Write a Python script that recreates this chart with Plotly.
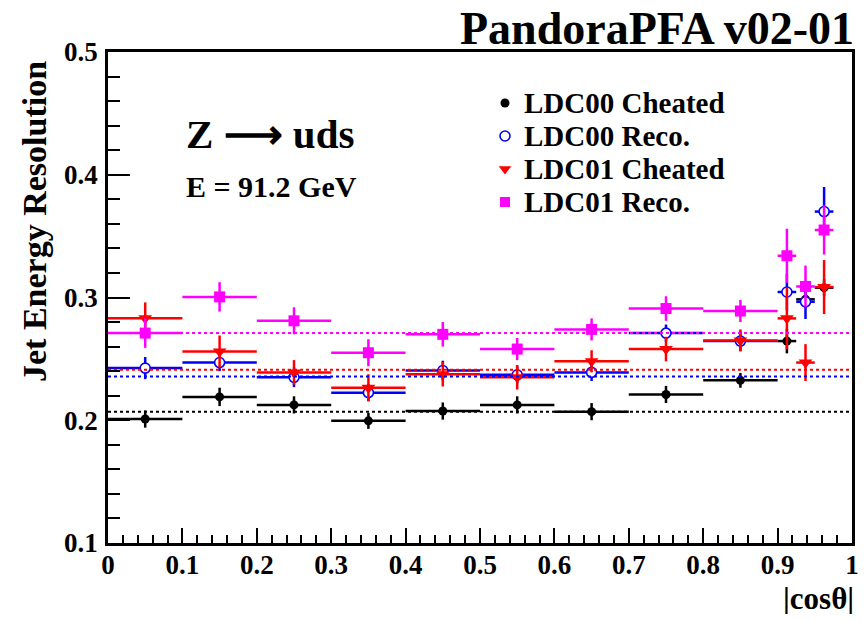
import plotly.graph_objects as go

# ---- data ----
x_centers = [0.05, 0.15, 0.25, 0.35, 0.45, 0.55, 0.65, 0.75, 0.85, 0.9125, 0.9375, 0.9625]
x_halfwidth = [0.05, 0.05, 0.05, 0.05, 0.05, 0.05, 0.05, 0.05, 0.05, 0.0125, 0.0125, 0.0125]

ldc00_cheated = [0.201, 0.219, 0.2125, 0.1995, 0.2075, 0.2125, 0.207, 0.221, 0.2325, 0.2645, 0.2985, 0.308]
ldc00_cheated_err = [0.007, 0.0075, 0.007, 0.0065, 0.007, 0.007, 0.007, 0.007, 0.006, 0.01, 0.007, 0.007]

ldc00_reco = [0.2425, 0.247, 0.235, 0.2225, 0.2405, 0.237, 0.239, 0.271, 0.2645, 0.3045, 0.2965, 0.37]
ldc00_reco_err = [0.009, 0.007, 0.008, 0.007, 0.008, 0.007, 0.007, 0.007, 0.008, 0.015, 0.014, 0.02]

ldc01_cheated = [0.283, 0.256, 0.239, 0.2265, 0.2375, 0.235, 0.248, 0.258, 0.265, 0.283, 0.247, 0.3085]
ldc01_cheated_err = [0.013, 0.013, 0.01, 0.011, 0.01, 0.01, 0.009, 0.01, 0.009, 0.025, 0.015, 0.022]

ldc01_reco = [0.271, 0.3005, 0.281, 0.255, 0.270, 0.258, 0.274, 0.291, 0.289, 0.334, 0.309, 0.355]
ldc01_reco_err = [0.012, 0.012, 0.011, 0.011, 0.01, 0.009, 0.009, 0.01, 0.009, 0.022, 0.017, 0.02]

series_names = ["LDC00 Cheated", "LDC00 Reco.", "LDC01 Cheated", "LDC01 Reco."]
series_means = [0.207, 0.2357, 0.2412, 0.271]
x_range = [0.0, 1.0]
y_range = [0.1, 0.5]
x_ticks = [0, 0.1, 0.2, 0.3, 0.4, 0.5, 0.6, 0.7, 0.8, 0.9, 1]
y_ticks = [0.1, 0.2, 0.3, 0.4, 0.5]

FONT = "Liberation Serif"
# the page body has an 8px margin, so the figure is drawn 8px in from the window corner;
# the visible area ends at ~859px, keep the figure inside it
OFF = 8
VIS_W, WIN_H = 859, 622
W, H = VIS_W - OFF, WIN_H - 2 * OFF
# plot frame in window pixels
FX0, FX1, FY0, FY1 = 108, 852, 52, 543
L, R, T, B = FX0 - OFF, W - (FX1 - OFF), FY0 - OFF, H - (FY1 - OFF)
pw, ph = W - L - R, H - T - B

# legend layout (window pixel positions of key column / text column / first row, row pitch)
LEG_KEY_X, LEG_TEXT_X, LEG_ROW0, LEG_PITCH = 505, 522, 103, 33


def px(xp):
    return (xp - OFF - L) / pw


def py(yp):
    return (H - B - (yp - OFF)) / ph


colors = ["black", "blue", "red", "magenta"]
symbols = ["circle", "circle", "triangle-down", "square"]
sizes = [9, 10, 12, 11]
values = [ldc00_cheated, ldc00_reco, ldc01_cheated, ldc01_reco]
errors = [ldc00_cheated_err, ldc00_reco_err, ldc01_cheated_err, ldc01_reco_err]


def marker_for(i, size):
    if i == 1:
        return dict(symbol="circle", size=size, color="white",
                    line=dict(color="blue", width=1.6))
    return dict(symbol=symbols[i], size=size, color=colors[i], line=dict(width=0))


fig = go.Figure()

for i in range(4):
    fig.add_trace(go.Scatter(
        x=x_centers, y=values[i], mode="markers", name=series_names[i],
        marker=marker_for(i, sizes[i]), showlegend=False,
        error_y=dict(type="data", array=errors[i], color=colors[i], thickness=2.5, width=0),
        error_x=dict(type="data", array=x_halfwidth, color=colors[i], thickness=2.5, width=0),
    ))

for i in range(4):
    fig.add_trace(go.Scatter(
        x=x_range, y=[series_means[i]] * 2, mode="lines", showlegend=False,
        line=dict(color=colors[i], width=2, dash="dot"), hoverinfo="skip",
    ))

# legend keys on a pixel-coordinate overlay axis (window pixels)
leg_sizes = [9, 10, 11, 10]
for i in range(4):
    fig.add_trace(go.Scatter(
        x=[LEG_KEY_X], y=[LEG_ROW0 + LEG_PITCH * i], mode="markers",
        marker=marker_for(i, leg_sizes[i]), showlegend=False,
        xaxis="x2", yaxis="y2", hoverinfo="skip",
    ))

axis_common = dict(
    showline=True, linecolor="black", linewidth=2.5, mirror=True,
    ticks="inside", tickcolor="black", tickwidth=1.5,
    showgrid=False, zeroline=False, automargin=False,
    tickfont=dict(family=FONT, size=27, color="black", weight="bold"),
)

xaxis = dict(range=x_range, tickvals=x_ticks, ticktext=[f"{v:g}" for v in x_ticks],
             ticklen=15, ticklabelstandoff=-4,
             minor=dict(dtick=0.02, ticks="inside", ticklen=8, tickcolor="black", tickwidth=1.5),
             **axis_common)
yaxis = dict(range=y_range, tickvals=y_ticks, ticktext=[f"{v:g}" for v in y_ticks],
             ticklen=22, ticklabelstandoff=2,
             minor=dict(dtick=0.02, ticks="inside", ticklen=12, tickcolor="black", tickwidth=1.5),
             **axis_common)

annots = [
    dict(text="PandoraPFA v02-01", x=px(856), y=py(1), xanchor="right", yanchor="top",
         font=dict(family=FONT, size=46, color="black", weight="bold")),
    dict(text="Jet Energy Resolution", x=px(35), y=py(222), xanchor="center", yanchor="middle",
         textangle=-90, font=dict(family=FONT, size=34, color="black", weight="bold")),
    dict(text="|cosθ|", x=px(856), y=py(598), xanchor="right", yanchor="middle",
         font=dict(family=FONT, size=31, color="black", weight="bold")),
    dict(text="Z ⟶ uds", x=px(184), y=py(134), xanchor="left", yanchor="middle",
         font=dict(family=FONT, size=41, color="black", weight="bold")),
    dict(text="E = 91.2 GeV", x=px(184), y=py(186), xanchor="left", yanchor="middle",
         font=dict(family=FONT, size=30, color="black", weight="bold")),
]
for i, name in enumerate(series_names):
    annots.append(dict(text=name, x=px(LEG_TEXT_X), y=py(LEG_ROW0 + LEG_PITCH * i),
                       xanchor="left", yanchor="middle",
                       font=dict(family=FONT, size=29, color="black", weight="bold")))
for a in annots:
    a.update(xref="paper", yref="paper", showarrow=False)

fig.update_layout(
    width=W, height=H,
    margin=dict(l=L, r=R, t=T, b=B, pad=0, autoexpand=False),
    paper_bgcolor="white", plot_bgcolor="white",
    annotations=annots,
    showlegend=False,
    xaxis=xaxis, yaxis=yaxis,
    xaxis2=dict(overlaying="x", range=[FX0, FX1], visible=False, fixedrange=True, automargin=False),
    yaxis2=dict(overlaying="y", range=[FY1, FY0], visible=False, fixedrange=True, automargin=False),
)

fig.write_html("out.html")
